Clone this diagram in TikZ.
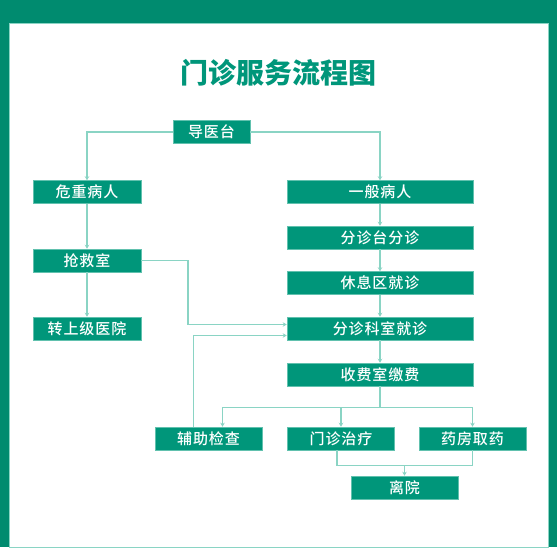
\documentclass[tikz,border=0pt]{standalone}
\usepackage{fontspec}
\newfontfamily\cjk{Noto Sans CJK SC}
\newfontfamily\cjkbox{Noto Sans CJK SC}[UprightFont=* Medium, LetterSpace=6]
\usepackage{xcolor}
\usepackage{tikz}
\usetikzlibrary{positioning,arrows.meta,calc}

\definecolor{frameteal}{HTML}{008B6F}
\definecolor{boxteal}{HTML}{00967A}
\definecolor{lineteal}{HTML}{8AD4C4}

\begin{document}
\begin{tikzpicture}[x=1pt, y=-1pt, font=\cjkbox\fontsize{15}{17}\selectfont, >={Stealth[length=4pt,width=4.5pt]},
  box/.style={draw=lineteal!70!boxteal, line width=0.5pt, fill=boxteal, text=white, align=center, inner sep=0pt, minimum height=23pt},
  flow/.style={->, draw=lineteal, line width=1.1pt}]
% frame and panel
\fill[frameteal] (0,0) rectangle (557,547);
\fill[white, draw=lineteal, line width=0.8pt] (9.5,23.5) rectangle (548,547.5);
\useasboundingbox (0,0) rectangle (557,547);
\node[text=boxteal, font=\cjk\bfseries\fontsize{28}{32}\selectfont] (title) at (278.5,73) {门诊服务流程图};
% nodes
\node[box, minimum width=77pt] (dyt) at (211.5,132) {导医台};
\node[box, minimum width=108pt] (wzbr) at (87,192) {危重病人};
\node[box, minimum width=186pt] (ybbr) at (380,192) {一般病人};
\node[box, minimum width=186pt] (fztfz) at (380,237.5) {分诊台分诊};
\node[box, minimum width=108pt] (qjs) at (87,260.5) {抢救室};
\node[box, minimum width=186pt] (xxqjz) at (380,283) {休息区就诊};
\node[box, minimum width=108pt] (zsjyy) at (87,328.5) {转上级医院};
\node[box, minimum width=186pt] (fzksjz) at (380,328.5) {分诊科室就诊};
\node[box, minimum width=186pt] (sfsjf) at (380,374.5) {收费室缴费};
\node[box, minimum width=107pt] (fzjc) at (208.5,438.5) {辅助检查};
\node[box, minimum width=107pt] (mzzl) at (341,438.5) {门诊治疗};
\node[box, minimum width=107pt] (yfqy) at (472.5,438.5) {药房取药};
\node[box, minimum width=107pt] (ly) at (404.5,487.5) {离院};
\coordinate (br) at ($(sfsjf.south)+(0,21)$);
\coordinate (jn) at ($(mzzl.south)+(0,15)$);
% connectors
\draw[flow] (dyt.west) -| (wzbr.north);
\draw[flow] (dyt.east) -| (ybbr.north);
\draw[flow] (wzbr) -- (qjs);
\draw[flow] (qjs) -- (zsjyy);
\draw[flow] (qjs.east) -| ($(qjs.east)!0.5!(fzksjz.west)+(-26,0)$) |- ($(fzksjz.west)+(0,-4)$);
\draw[flow] ($(fzjc.north west)+(39,0)$) |- ($(fzksjz.west)+(0,7)$);
\draw[flow] (ybbr) -- (fztfz);
\draw[flow] (fztfz) -- (xxqjz);
\draw[flow] (xxqjz) -- (fzksjz);
\draw[flow] (fzksjz) -- (sfsjf);
\draw[draw=lineteal, line width=1.1pt] (sfsjf.south) -- (br);
\draw[flow] (br) -| ($(fzjc.north)+(14,0)$);
\draw[flow] (br) -| (mzzl.north);
\draw[flow] (br) -| (yfqy.north);
\draw[draw=lineteal, line width=1.1pt] ($(mzzl.south)+(-4,0)$) |- (jn) -| (yfqy.south);
\draw[flow] (jn -| ly.north) -- (ly.north);
\end{tikzpicture}
\end{document}
